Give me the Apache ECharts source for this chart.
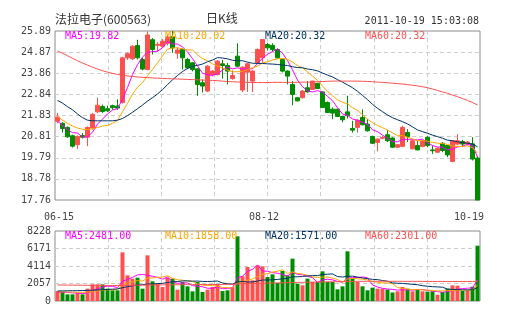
<!DOCTYPE html>
<html>
<head>
<meta charset="utf-8">
<script src="https://cdn.jsdelivr.net/npm/echarts@6/dist/echarts.min.js"></script>
<style>
  html, body { margin: 0; padding: 0; background: #fff; }
  #main { width: 505px; height: 330px; }
</style>
</head>
<body>
<div id="main"></div>
<script>
// ---- daily K-line data: 法拉电子 (600563), 2011-06-15 .. 2011-10-19 ----
const dates = [
  '06-15','06-16','06-17','06-20','06-21','06-22','06-23','06-24','06-27','06-28','06-29','06-30',
  '07-01','07-04','07-05','07-06','07-07','07-08','07-11','07-12','07-13','07-14','07-15','07-18',
  '07-19','07-20','07-21','07-22','07-25','07-26','07-27','07-28','07-29',
  '08-01','08-02','08-03','08-04','08-05','08-08','08-09','08-10','08-11','08-12','08-15','08-16',
  '08-17','08-18','08-19','08-22','08-23','08-24','08-25','08-26','08-29','08-30','08-31',
  '09-01','09-02','09-05','09-06','09-07','09-08','09-09','09-13','09-14','09-15','09-16','09-19',
  '09-20','09-21','09-22','09-23','09-26','09-27','09-28','09-29','09-30',
  '10-10','10-11','10-12','10-13','10-14','10-17','10-18','10-19'
];

const opens = [
  21.55,21.45,21.25,20.85,20.42,20.86,20.78,21.22,22.0,22.26,
  22.15,22.3,22.28,22.45,24.6,24.55,25.19,24.52,24.04,25.47,
  25.2,25.16,25.3,25.63,24.82,25.0,24.52,24.36,24.07,23.4,
  23.0,23.8,23.8,24.31,24.23,23.6,24.68,23.05,23.91,23.48,
  24.36,24.6,25.24,25.2,25.0,24.52,23.96,23.32,22.68,22.68,
  23.16,23.08,23.37,22.96,22.45,22.13,22.13,21.78,22.0,21.2,
  21.25,21.73,21.41,20.82,20.53,20.73,20.9,20.74,20.3,20.34,
  21.01,20.22,20.38,20.33,20.77,20.17,20.06,20.49,20.38,19.61,
  20.45,20.57,20.45,20.46,19.78
];
const closes = [
  21.75,21.2,20.8,20.35,20.82,20.78,21.25,21.88,22.32,22.02,
  22.05,22.2,22.18,24.6,24.8,25.16,24.6,24.06,25.7,25.0,
  25.25,25.4,25.6,25.08,24.98,24.6,24.12,24.04,23.32,23.24,
  24.2,23.96,24.44,24.23,23.96,23.75,24.2,24.15,24.31,23.96,
  25.0,25.48,25.08,25.0,24.6,23.96,23.72,22.84,22.53,23.0,
  22.96,23.48,23.12,22.21,21.97,21.94,21.78,21.62,21.82,21.12,
  21.6,21.38,21.09,20.49,20.69,20.77,20.61,20.3,20.42,21.25,
  20.8,20.61,20.17,20.61,20.38,20.13,20.25,20.14,19.93,20.61,
  20.61,20.45,20.55,19.73,17.76
];
const lows = [
  21.45,21.0,20.75,20.28,20.22,20.72,20.35,21.15,21.95,21.95,
  22.0,22.1,22.1,22.4,24.5,24.5,24.52,24.0,24.0,24.76,
  24.9,25.1,25.2,24.84,24.55,24.04,24.05,23.95,22.77,22.93,
  22.95,23.7,23.75,23.6,23.32,23.55,24.15,22.95,22.96,22.96,
  24.3,24.36,24.95,24.9,24.55,23.9,23.32,22.32,22.5,22.65,
  22.93,23.05,23.1,22.18,21.95,21.65,21.75,21.5,21.68,21.0,
  21.0,21.35,21.05,20.45,20.1,20.68,20.55,20.28,20.28,20.3,
  20.55,20.2,20.15,20.3,20.3,19.98,20.04,20.06,19.82,19.6,
  20.4,20.33,20.38,19.66,17.76
];
const highs = [
  21.95,21.5,21.3,20.9,20.86,20.98,21.3,21.95,22.68,22.35,
  22.3,22.35,22.6,24.65,24.85,25.2,25.47,24.6,25.87,25.55,
  25.35,25.5,25.7,25.89,25.1,25.05,24.6,24.4,24.1,23.56,
  24.25,24.0,24.5,24.5,24.36,24.0,25.3,24.2,24.35,24.0,
  25.05,25.5,25.32,25.3,25.05,24.55,24.0,23.48,22.72,23.05,
  23.48,23.5,23.4,23.0,22.5,22.21,22.15,21.8,22.78,21.57,
  21.65,22.12,21.65,20.85,20.72,20.85,21.12,20.78,20.45,21.33,
  21.17,20.65,20.61,20.64,20.85,20.38,20.28,20.54,20.4,20.63,
  20.93,20.65,20.6,20.78,19.85
];

// price moving averages
const ma5 = [
  21.55,21.35,21.15,21.0,20.98,20.79,20.8,21.02,21.41,21.65,
  21.9,22.09,22.15,22.61,23.17,23.79,24.27,24.64,24.86,24.9,
  24.92,25.08,25.39,25.27,25.26,25.13,24.88,24.56,24.21,23.86,
  23.78,23.75,23.83,24.01,24.16,24.07,24.12,24.06,24.07,24.07,
  24.32,24.58,24.77,24.9,25.03,24.82,24.47,24.02,23.53,23.21,
  23.01,22.96,23.02,22.95,22.75,22.54,22.2,21.9,21.83,21.66,
  21.59,21.51,21.4,21.14,21.05,20.88,20.73,20.57,20.56,20.67,
  20.68,20.68,20.65,20.69,20.51,20.38,20.31,20.3,20.17,20.21,
  20.31,20.35,20.43,20.39,19.82
];
const ma10 = [
  21.78,21.6,21.45,21.32,21.22,21.16,21.15,21.18,21.25,21.32,
  21.35,21.45,21.59,22.01,22.41,22.85,23.18,23.4,23.74,24.04,
  24.36,24.68,25.02,25.07,25.08,25.03,24.98,24.98,24.74,24.56,
  24.46,24.31,24.2,24.11,24.01,23.93,23.93,23.95,24.04,24.12,
  24.2,24.35,24.41,24.49,24.55,24.57,24.53,24.4,24.22,24.12,
  23.92,23.72,23.52,23.24,22.98,22.78,22.58,22.46,22.39,22.2,
  22.07,21.86,21.65,21.48,21.35,21.24,21.12,20.99,20.85,20.86,
  20.78,20.7,20.61,20.62,20.59,20.53,20.49,20.48,20.43,20.36,
  20.34,20.33,20.37,20.28,20.02
];
const ma20 = [
  22.55,22.42,22.25,22.1,21.9,21.72,21.6,21.57,21.57,21.57,
  21.57,21.57,21.6,21.68,21.82,21.98,22.15,22.33,22.52,22.68,
  22.86,23.07,23.31,23.54,23.75,23.94,24.09,24.19,24.24,24.3,
  24.41,24.49,24.61,24.59,24.55,24.48,24.46,24.46,24.39,24.34,
  24.33,24.33,24.31,24.3,24.28,24.25,24.23,24.17,24.13,24.12,
  24.06,24.03,23.97,23.87,23.77,23.68,23.55,23.43,23.3,23.16,
  22.99,22.79,22.59,22.36,22.17,22.01,21.85,21.72,21.62,21.53,
  21.42,21.28,21.13,21.05,20.97,20.88,20.81,20.73,20.64,20.61,
  20.56,20.52,20.49,20.45,20.32
];
const ma60 = [
  24.92,24.82,24.7,24.58,24.46,24.35,24.25,24.15,24.06,23.98,
  23.91,23.85,23.8,23.76,23.73,23.7,23.68,23.66,23.65,23.63,
  23.62,23.61,23.6,23.59,23.58,23.57,23.56,23.55,23.54,23.53,
  23.52,23.51,23.5,23.48,23.46,23.45,23.44,23.43,23.42,23.41,
  23.41,23.41,23.41,23.42,23.42,23.42,23.42,23.42,23.42,23.43,
  23.43,23.44,23.45,23.46,23.47,23.48,23.48,23.48,23.48,23.48,
  23.48,23.47,23.46,23.45,23.43,23.42,23.4,23.38,23.36,23.34,
  23.31,23.28,23.25,23.21,23.16,23.1,23.03,22.96,22.89,22.81,
  22.73,22.64,22.55,22.45,22.33
];

// volume (hands) and its moving averages
const volumes = [
  1175,1058,784,784,940,784,1450,1959,1959,1959,
  1450,1254,1254,5720,3017,2625,2743,1450,5368,2312,
  2037,1646,2743,2625,1332,2233,1724,1136,2233,1058,
  1332,1646,1959,1175,1254,1646,7601,2900,4000,2430,
  4190,4075,2821,3134,2116,3526,3017,4976,2037,1841,
  2625,2233,2233,3487,2233,2233,1371,1724,5838,2625,
  2233,1724,1254,1567,1450,1450,1350,1000,1136,1650,
  1450,1136,1350,1136,1100,1136,744,1058,1450,1841,
  1800,1175,1250,1680,6500
];
const volMa5 = [
  1050,1040,1000,960,948,870,948,1183,1418,1622,
  1755,1716,1575,2327,2539,2774,3072,3111,3041,2900,
  2782,2563,2821,2273,2077,2116,2131,1810,1732,1677,
  1497,1481,1646,1434,1473,1536,2727,2915,3480,3715,
  4224,3519,3503,3330,3267,3134,2923,3354,3134,3079,
  2899,2742,2194,2484,2562,2484,2311,2210,2680,2758,
  2758,2829,2735,1881,1646,1489,1414,1364,1277,1317,
  1317,1274,1344,1344,1234,1171,1093,1035,1098,1246,
  1379,1465,1503,1549,2481
];
const volMa10 = [
  1100,1080,1060,1040,1030,1020,1040,1100,1190,1285,
  1313,1332,1379,1873,2081,2265,2394,2343,2684,2720,
  2778,2818,2966,2657,2489,2449,2347,2316,2003,1877,
  1807,1806,1728,1583,1575,1517,2104,2281,2457,2594,
  2880,3123,3209,3405,3491,3679,3221,3429,3232,3173,
  3017,2833,2774,2809,2821,2692,2527,2202,2582,2660,
  2621,2570,2473,2281,2202,2124,2122,2050,1579,1482,
  1403,1344,1354,1311,1276,1244,1184,1190,1221,1240,
  1275,1279,1269,1324,1858
];
const volMa20 = [
  1180,1190,1200,1210,1220,1230,1250,1270,1300,1330,
  1360,1390,1420,1560,1680,1790,1880,1920,1990,2003,
  2046,2075,2173,2265,2285,2357,2371,2330,2344,2299,
  2293,2312,2347,2120,2032,1983,2226,2299,2230,2236,
  2344,2465,2469,2494,2533,2598,2663,2855,2845,2884,
  2949,2978,2992,3107,3156,3186,2874,2816,2907,2917,
  2819,2702,2624,2545,2512,2408,2325,2126,2081,2071,
  2012,1957,1914,1796,1739,1684,1653,1620,1400,1361,
  1339,1312,1312,1318,1571
];
const volMa60 = [
  1880,1875,1870,1865,1860,1855,1850,1845,1840,1835,
  1830,1825,1820,1830,1840,1850,1860,1865,1875,1885,
  1890,1895,1900,1905,1910,1915,1920,1925,1930,1930,
  1935,1940,1945,1950,1955,1960,2000,2020,2040,2055,
  2070,2085,2100,2115,2130,2145,2160,2175,2190,2200,
  2210,2220,2230,2240,2250,2260,2270,2280,2290,2300,
  2310,2315,2320,2320,2320,2320,2318,2316,2314,2312,
  2310,2308,2306,2304,2302,2300,2298,2296,2294,2292,
  2290,2290,2292,2295,2301
];

// axis tick labels and header / legend texts
const priceTicks = ['17.76','18.78','19.79','20.81','21.83','22.84','23.86','24.87','25.89'];
const priceMin = 17.76, priceMax = 25.89;
const volumeTicks = [0, 2057, 4114, 6171, 8228];
const dateTicks = ['06-15', '08-12', '10-19'];
const priceMaLabels = ['MA5:19.82', 'MA10:20.02', 'MA20:20.32', 'MA60:20.32'];
const volumeMaLabels = ['MA5:2481.00', 'MA10:1858.00', 'MA20:1571.00', 'MA60:2301.00'];
const stockName = '法拉电子(600563)';
const chartName = '日K线';
const timeStamp = '2011-10-19 15:03:08';

// ---- styling ----
const UP = '#ff5050';
const DOWN = '#008c00';
const MA_COLORS = ['#ff00ff', '#ffa500', '#003366', '#ff5050'];
const MONO = '"DejaVu Sans Mono", "Liberation Mono", monospace';
const CJK = '"Noto Sans CJK SC", "Noto Sans", sans-serif';
const TEXT = '#444';
const dash = { color: '#cdcdcd', type: [4, 3], width: 1 };
const G = { left: 55, width: 425, top: 31, height: 169, vTop: 231, vHeight: 70 };

const chart = echarts.init(document.getElementById('main'), null, { renderer: 'canvas' });

const kData = dates.map((d, i) => [opens[i], closes[i], lows[i], highs[i]]);
const volData = volumes.map((v, i) => ({
  value: v,
  itemStyle: { color: closes[i] >= opens[i] ? UP : DOWN }
}));

function maLine(name, data, color, xi, yi) {
  return {
    name, type: 'line', data, xAxisIndex: xi, yAxisIndex: yi,
    symbol: 'none', smooth: false, silent: true, z: 5,
    lineStyle: { color, width: 1 }
  };
}

// helper value axes: eight equal vertical divisions in each panel
function divisionAxis(gridIndex) {
  return {
    type: 'value', gridIndex, min: 0, max: 8, interval: 1,
    axisLine: { show: false }, axisTick: { show: false }, axisLabel: { show: false },
    splitLine: { show: true, showMinLine: false, showMaxLine: false, lineStyle: dash }
  };
}

const legendTexts = [];
priceMaLabels.forEach((t, k) => legendTexts.push({
  type: 'text', left: G.left + 10 + 100 * k, top: 37 - 6, z: 100, silent: true,
  style: { text: t, fill: MA_COLORS[k], font: '10px ' + MONO }
}));
volumeMaLabels.forEach((t, k) => legendTexts.push({
  type: 'text', left: G.left + 10 + 100 * k, top: 237 - 6, z: 100, silent: true,
  style: { text: t, fill: MA_COLORS[k], font: '10px ' + MONO }
}));

const option = {
  animation: false,
  backgroundColor: '#ffffff',
  grid: [
    { left: G.left, top: G.top, width: G.width, height: G.height,
      show: true, borderColor: '#8c8c8c', borderWidth: 1, backgroundColor: 'transparent' },
    { left: G.left, top: G.vTop, width: G.width, height: G.vHeight,
      show: true, borderColor: '#8c8c8c', borderWidth: 1, backgroundColor: 'transparent' }
  ],
  xAxis: [
    {
      type: 'category', gridIndex: 0, data: dates, boundaryGap: true,
      axisLine: { show: false }, axisTick: { show: false }, splitLine: { show: false },
      axisLabel: {
        interval: (i, v) => dateTicks.includes(v),
        margin: 12, color: TEXT, fontFamily: MONO, fontSize: 10,
        formatter: (v) => {
          const k = dateTicks.indexOf(v);
          return ['{a|', '{b|', '{c|'][k] + v + '}';
        },
        rich: {
          a: { color: TEXT, fontFamily: MONO, fontSize: 10, padding: [0, 0, 0, 3] },
          b: { color: TEXT, fontFamily: MONO, fontSize: 10, padding: [0, 7, 0, 0] },
          c: { color: TEXT, fontFamily: MONO, fontSize: 10, padding: [0, 17, 0, 0] }
        }
      }
    },
    divisionAxis(0),
    {
      type: 'category', gridIndex: 1, data: dates, boundaryGap: true,
      axisLine: { show: false }, axisTick: { show: false },
      axisLabel: { show: false }, splitLine: { show: false }
    },
    divisionAxis(1)
  ],
  yAxis: [
    { type: 'value', gridIndex: 0, min: priceMin, max: priceMax, show: false, scale: true },
    {
      type: 'value', gridIndex: 0, min: 0, max: priceTicks.length - 1, interval: 1, position: 'left',
      axisLine: { show: false }, axisTick: { show: false },
      axisLabel: { margin: 4, color: TEXT, fontFamily: MONO, fontSize: 10,
                   formatter: (v) => priceTicks[Math.round(v)] },
      splitLine: { show: true, showMinLine: false, showMaxLine: false, lineStyle: dash }
    },
    {
      type: 'value', gridIndex: 1, min: volumeTicks[0], max: volumeTicks[volumeTicks.length - 1],
      interval: volumeTicks[1] - volumeTicks[0],
      axisLine: { show: false }, axisTick: { show: false },
      axisLabel: { margin: 4, color: TEXT, fontFamily: MONO, fontSize: 10,
                   formatter: (v) => String(v) },
      splitLine: { show: true, showMinLine: false, showMaxLine: false, lineStyle: dash }
    }
  ],
  series: [
    {
      name: 'K', type: 'candlestick', data: kData, xAxisIndex: 0, yAxisIndex: 0,
      barWidth: 4, silent: true, z: 3,
      itemStyle: { color: UP, color0: DOWN, borderColor: UP, borderColor0: DOWN, borderWidth: 1 }
    },
    maLine('MA5', ma5, MA_COLORS[0], 0, 0),
    maLine('MA10', ma10, MA_COLORS[1], 0, 0),
    maLine('MA20', ma20, MA_COLORS[2], 0, 0),
    maLine('MA60', ma60, MA_COLORS[3], 0, 0),
    {
      name: 'VOL', type: 'bar', data: volData, xAxisIndex: 2, yAxisIndex: 2,
      barWidth: 4, silent: true, z: 3
    },
    maLine('VMA5', volMa5, MA_COLORS[0], 2, 2),
    maLine('VMA10', volMa10, MA_COLORS[1], 2, 2),
    maLine('VMA20', volMa20, MA_COLORS[2], 2, 2),
    maLine('VMA60', volMa60, MA_COLORS[3], 2, 2)
  ],
  graphic: [
    { type: 'text', left: 55, top: 21 - 8, silent: true,
      style: { text: stockName, fill: '#333', font: '12px ' + CJK } },
    { type: 'text', left: 224 - 18, top: 20.5 - 8, silent: true,
      style: { text: chartName, fill: '#333', font: '12px ' + CJK } },
    { type: 'text', right: 505 - 479, top: 22.5 - 6, silent: true,
      style: { text: timeStamp, fill: '#333', font: '10px ' + MONO } }
  ].concat(legendTexts)
};

chart.setOption(option);
</script>
</body>
</html>
